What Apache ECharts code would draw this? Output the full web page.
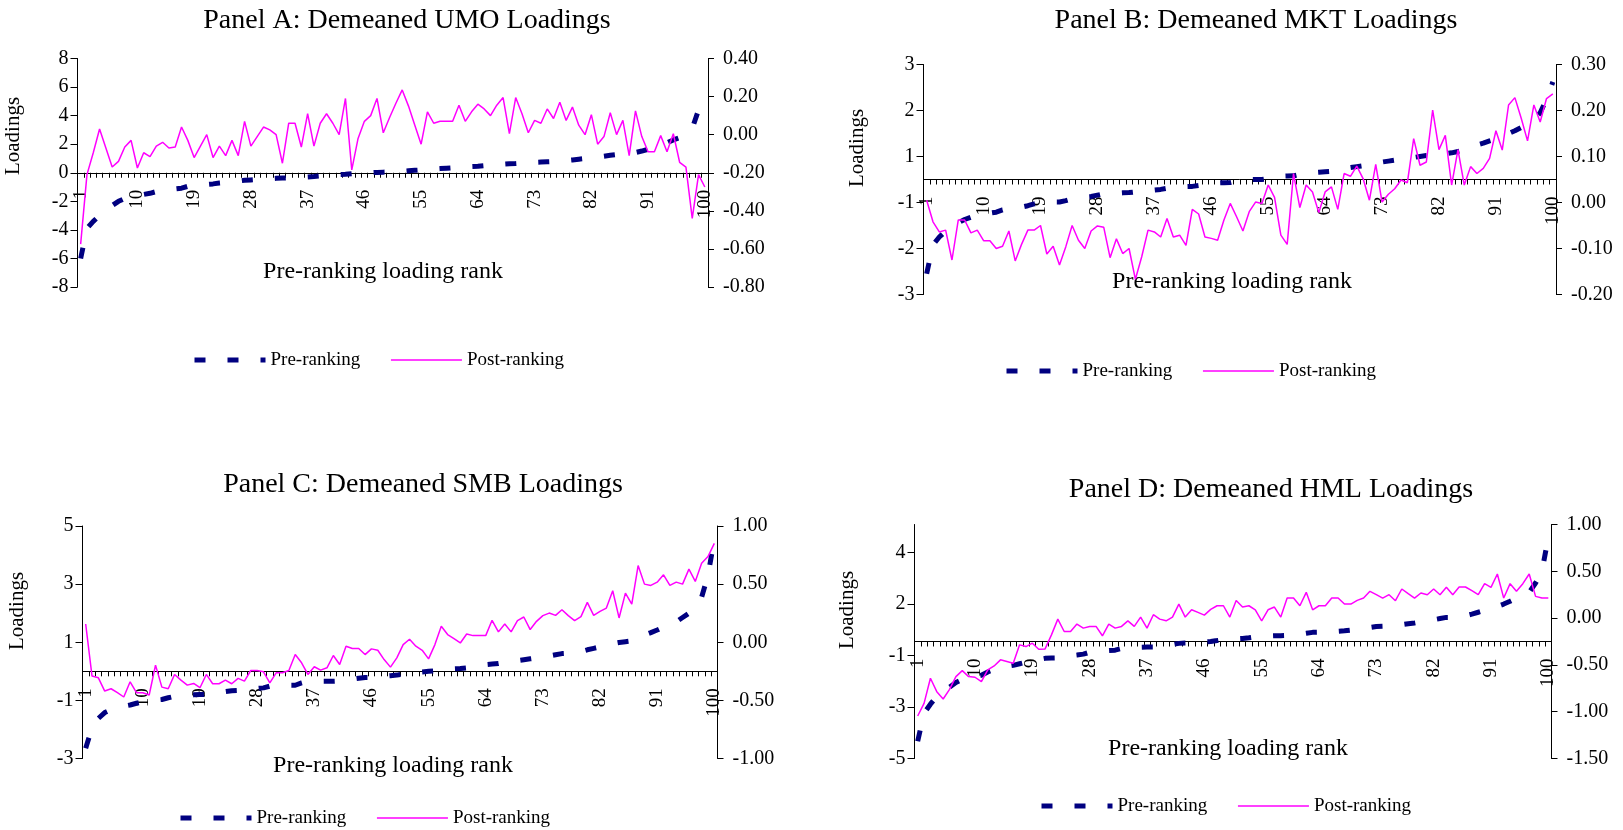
<!DOCTYPE html>
<html>
<head>
<meta charset="utf-8">
<script src="https://cdn.jsdelivr.net/npm/echarts@6/dist/echarts.min.js"></script>
<style>
html,body{margin:0;padding:0;background:#ffffff;}
#chart{width:1623px;height:830px;}
</style>
</head>
<body>
<div id="chart"></div>
<script>
// ---------------- DATA ----------------
const ranks = ['1','2','3','4','5','6','7','8','9','10','11','12','13','14','15','16','17','18','19','20',
'21','22','23','24','25','26','27','28','29','30','31','32','33','34','35','36','37','38','39','40',
'41','42','43','44','45','46','47','48','49','50','51','52','53','54','55','56','57','58','59','60',
'61','62','63','64','65','66','67','68','69','70','71','72','73','74','75','76','77','78','79','80',
'81','82','83','84','85','86','87','88','89','90','91','92','93','94','95','96','97','98','99','100'];

const seriesNames = ['Pre-ranking', 'Post-ranking'];
const panelTitles = ['Panel A: Demeaned UMO Loadings', 'Panel B: Demeaned MKT Loadings',
                     'Panel C: Demeaned SMB Loadings', 'Panel D: Demeaned HML Loadings'];
const xAxisTitle = 'Pre-ranking loading rank';
const yAxisTitle = 'Loadings';

// Panel A (pre: left axis, post: right axis)
const preA = [-6.0,-3.9,-3.4,-3.0,-2.6,-2.3,-2.0,-1.8,-1.7,-1.62,
-1.52,-1.44,-1.32,-1.25,-1.19,-1.13,-1.08,-0.95,-0.9,-0.86,
-0.82,-0.78,-0.72,-0.68,-0.63,-0.58,-0.53,-0.5,-0.47,-0.45,
-0.42,-0.39,-0.37,-0.35,-0.33,-0.31,-0.29,-0.26,-0.22,-0.18,
-0.15,-0.13,-0.11,-0.07,-0.04,-0.02,0.0,0.02,0.04,0.06,
0.08,0.1,0.14,0.17,0.2,0.23,0.26,0.29,0.32,0.35,
0.38,0.41,0.44,0.46,0.5,0.54,0.57,0.6,0.63,0.65,
0.68,0.71,0.73,0.75,0.77,0.79,0.82,0.86,0.9,0.95,
1.0,1.05,1.1,1.16,1.22,1.27,1.3,1.35,1.42,1.52,
1.64,1.8,1.95,2.1,2.3,2.45,2.75,3.1,4.4,5.2];
const postA = [-0.575,-0.21,-0.095,0.03,-0.07,-0.17,-0.14,-0.065,-0.03,-0.175,
-0.095,-0.115,-0.06,-0.04,-0.07,-0.065,0.04,-0.03,-0.12,-0.06,
0.0,-0.12,-0.06,-0.11,-0.03,-0.11,0.07,-0.06,-0.01,0.04,
0.025,0.0,-0.15,0.06,0.06,-0.065,0.11,-0.06,0.06,0.11,
0.06,0.0,0.19,-0.185,-0.02,0.07,0.10,0.19,0.01,0.09,
0.165,0.235,0.15,0.05,-0.05,0.12,0.06,0.07,0.07,0.07,
0.155,0.07,0.12,0.16,0.135,0.10,0.155,0.195,0.005,0.195,
0.11,0.01,0.075,0.06,0.135,0.085,0.17,0.075,0.145,0.05,
0.0,0.105,-0.05,-0.01,0.115,0.0,0.075,-0.11,0.125,-0.01,
-0.09,-0.09,-0.005,-0.09,0.005,-0.145,-0.17,-0.44,-0.21,-0.275];

// Panel B
const preB = [-2.05,-1.42,-1.25,-1.12,-1.02,-0.94,-0.87,-0.82,-0.78,-0.75,
-0.73,-0.71,-0.66,-0.64,-0.62,-0.60,-0.57,-0.53,-0.50,-0.50,
-0.49,-0.49,-0.46,-0.42,-0.40,-0.38,-0.37,-0.34,-0.31,-0.30,
-0.30,-0.29,-0.285,-0.27,-0.26,-0.24,-0.23,-0.215,-0.19,-0.17,
-0.16,-0.155,-0.15,-0.13,-0.09,-0.08,-0.075,-0.07,-0.065,-0.03,
0.0,0.0,0.0,0.0,0.02,0.06,0.07,0.075,0.08,0.11,
0.145,0.15,0.16,0.17,0.18,0.23,0.25,0.26,0.28,0.30,
0.34,0.36,0.38,0.40,0.42,0.44,0.46,0.48,0.50,0.52,
0.53,0.54,0.56,0.58,0.61,0.64,0.70,0.75,0.79,0.84,
0.88,0.93,1.00,1.06,1.13,1.22,1.31,1.45,1.75,2.12];
const postB = [0.005,-0.042,-0.064,-0.060,-0.125,-0.038,-0.038,-0.066,-0.060,-0.083,
-0.083,-0.100,-0.095,-0.062,-0.127,-0.091,-0.060,-0.060,-0.050,-0.112,
-0.095,-0.136,-0.096,-0.050,-0.082,-0.100,-0.062,-0.051,-0.054,-0.120,
-0.079,-0.111,-0.100,-0.167,-0.118,-0.060,-0.064,-0.075,-0.035,-0.075,
-0.071,-0.093,-0.015,-0.025,-0.075,-0.078,-0.082,-0.038,-0.002,-0.031,
-0.062,-0.020,0.001,-0.002,0.038,0.011,-0.071,-0.091,0.063,-0.011,
0.038,0.023,-0.022,0.023,0.034,-0.015,0.063,0.057,0.079,0.052,
0.005,0.083,0.001,0.018,0.030,0.049,0.043,0.139,0.081,0.088,
0.201,0.115,0.146,0.038,0.115,0.038,0.078,0.063,0.074,0.096,
0.156,0.114,0.212,0.228,0.183,0.134,0.212,0.175,0.226,0.236];

// Panel C
const preC = [-2.65,-1.95,-1.62,-1.42,-1.32,-1.25,-1.2,-1.16,-1.1,-1.05,
-1.02,-0.99,-0.97,-0.91,-0.86,-0.84,-0.82,-0.81,-0.8,-0.8,
-0.77,-0.73,-0.7,-0.67,-0.66,-0.64,-0.61,-0.59,-0.57,-0.51,
-0.49,-0.49,-0.48,-0.48,-0.4,-0.34,-0.34,-0.34,-0.34,-0.34,
-0.33,-0.3,-0.27,-0.24,-0.21,-0.21,-0.19,-0.17,-0.15,-0.13,
-0.09,-0.06,-0.04,-0.02,0.0,0.02,0.06,0.08,0.09,0.1,
0.12,0.17,0.2,0.23,0.25,0.27,0.31,0.34,0.37,0.4,
0.43,0.46,0.49,0.53,0.57,0.61,0.62,0.63,0.68,0.74,
0.79,0.84,0.9,0.95,0.99,1.02,1.05,1.18,1.25,1.33,
1.42,1.52,1.6,1.7,1.85,2.0,2.25,2.55,3.3,4.55];
const postC = [0.157,-0.291,-0.306,-0.42,-0.40,-0.434,-0.471,-0.34,-0.434,-0.434,
-0.454,-0.197,-0.386,-0.40,-0.277,-0.326,-0.369,-0.354,-0.391,-0.277,
-0.357,-0.357,-0.326,-0.357,-0.311,-0.334,-0.243,-0.243,-0.254,-0.349,
-0.263,-0.263,-0.243,-0.106,-0.177,-0.277,-0.211,-0.24,-0.22,-0.114,
-0.191,-0.034,-0.054,-0.054,-0.106,-0.057,-0.069,-0.149,-0.214,-0.134,
-0.02,0.026,-0.034,-0.069,-0.143,-0.02,0.137,0.066,0.031,-0.006,
0.071,0.057,0.057,0.057,0.189,0.089,0.157,0.089,0.186,0.217,
0.109,0.18,0.229,0.251,0.231,0.28,0.229,0.186,0.22,0.343,
0.231,0.266,0.294,0.443,0.209,0.423,0.329,0.66,0.5,0.489,
0.517,0.58,0.489,0.517,0.5,0.629,0.523,0.68,0.737,0.851];

// Panel D
const preD = [-4.26,-3.06,-2.68,-2.35,-2.1,-1.95,-1.75,-1.62,-1.55,-1.5,
-1.44,-1.3,-1.2,-1.12,-1.06,-1.02,-0.95,-0.88,-0.82,-0.77,
-0.72,-0.705,-0.7,-0.66,-0.61,-0.58,-0.54,-0.46,-0.43,-0.41,
-0.39,-0.37,-0.3,-0.27,-0.26,-0.25,-0.24,-0.24,-0.23,-0.18,
-0.13,-0.08,-0.06,-0.05,-0.04,-0.02,0.0,0.04,0.09,0.11,
0.12,0.13,0.16,0.2,0.22,0.24,0.25,0.25,0.26,0.28,
0.31,0.35,0.39,0.395,0.4,0.42,0.44,0.46,0.49,0.53,
0.56,0.6,0.64,0.65,0.65,0.68,0.72,0.76,0.79,0.84,
0.88,0.93,0.98,1.03,1.03,1.04,1.1,1.17,1.25,1.33,
1.41,1.5,1.6,1.72,1.85,1.96,2.1,2.5,3.0,4.46];
const postD = [-1.046,-0.911,-0.643,-0.786,-0.864,-0.761,-0.625,-0.561,-0.625,-0.632,
-0.679,-0.554,-0.511,-0.446,-0.464,-0.482,-0.286,-0.304,-0.268,-0.332,
-0.329,-0.179,-0.011,-0.143,-0.143,-0.064,-0.107,-0.089,-0.089,-0.189,
-0.064,-0.107,-0.089,-0.029,-0.089,0.011,-0.107,0.036,-0.011,-0.029,
0.011,0.15,0.011,0.089,0.061,0.032,0.093,0.132,0.132,0.011,
0.189,0.118,0.132,0.089,-0.029,0.089,0.118,0.011,0.214,0.214,
0.132,0.275,0.089,0.132,0.132,0.214,0.214,0.15,0.15,0.189,
0.214,0.286,0.25,0.214,0.25,0.186,0.311,0.261,0.214,0.268,
0.25,0.311,0.25,0.329,0.25,0.332,0.332,0.293,0.25,0.368,
0.329,0.471,0.214,0.368,0.286,0.368,0.471,0.232,0.214,0.214];

// Axis ranges and tick values (left axis / right axis)
const leftMin  = [-8, -2.5, -3, -5];
const leftMax  = [8, 2.5, 5, 5];
const leftTicks = [[-8,-6,-4,-2,0,2,4,6,8], [-2.5,-1.5,-0.5,0.5,1.5,2.5], [-3,-1,1,3,5], [-5,-2.8,-0.6,1.6,3.8]];
const rightMin = [-0.8, -0.2, -1.0, -1.5];
const rightMax = [0.4, 0.3, 1.0, 1.0];
const rightTicks = [[-0.8,-0.6,-0.4,-0.2,0,0.2,0.4], [-0.2,-0.1,0,0.1,0.2,0.3], [-1,-0.5,0,0.5,1], [-1.5,-1,-0.5,0,0.5,1]];

const preSeries = [preA, preB, preC, preD];
const postSeries = [postA, postB, postC, postD];

// ---------------- LAYOUT / STYLE ----------------
const FONT = "'Liberation Serif', 'Times New Roman', serif";
const NAVY = '#000080';
const MAGENTA = '#FF00FF';
const grids = [
  {left: 77.5, top: 58.5, width: 630.5, height: 228.5},
  {left: 923.5, top: 64.5, width: 632.5, height: 230},
  {left: 82.5, top: 526, width: 635, height: 232.5},
  {left: 914.5, top: 524.5, width: 637, height: 234}
];
const titlePos = [[407, 21], [1256, 21], [423, 485], [1271, 490]];
const xTitlePos = [[383, 272], [1232, 282], [393, 766], [1228, 749]];
const yTitlePos = [[13, 136], [857, 148], [17, 611], [847, 610]];
const legendPos = [[192, 350], [1004, 361], [178, 808], [1039, 796]];

function excelRound(v) {
  const r = Math.sign(v) * Math.round(Math.abs(v));
  return r === 0 ? '0' : String(r);
}

const option = {
  backgroundColor: '#ffffff',
  animation: false,
  grid: grids.map(g => Object.assign({containLabel: false, outerBoundsMode: 'none'}, g)),
  xAxis: [], yAxis: [], series: [], legend: [], graphic: []
};

for (let i = 0; i < 4; i++) {
  // category axis crosses the left value axis at 0: shift the whole axis (line, ticks, labels) up to that level
  const zeroOffset = -grids[i].height * (0 - leftMin[i]) / (leftMax[i] - leftMin[i]);
  option.xAxis.push({
    type: 'category', gridIndex: i, data: ranks, boundaryGap: true,
    position: 'bottom', offset: zeroOffset,
    axisLine: {show: true, onZero: false, lineStyle: {color: '#000', width: 1}},
    axisTick: {show: true, interval: 0, length: 5, inside: false, lineStyle: {color: '#000', width: 1}},
    axisLabel: {show: true, interval: 8, rotate: 90, margin: 17, fontSize: 19, fontFamily: FONT, color: '#000', hideOverlap: false},
    splitLine: {show: false}
  });
  option.yAxis.push({
    type: 'value', gridIndex: i, position: 'left',
    min: leftMin[i], max: leftMax[i],
    axisLine: {show: true, onZero: false, lineStyle: {color: '#000', width: 1}},
    axisTick: {show: true, length: 7, inside: false, customValues: leftTicks[i], lineStyle: {color: '#000'}},
    axisLabel: {show: true, customValues: leftTicks[i], formatter: excelRound, margin: 9, fontSize: 20, fontFamily: FONT, color: '#000'},
    splitLine: {show: false}
  });
  option.yAxis.push({
    type: 'value', gridIndex: i, position: 'right',
    min: rightMin[i], max: rightMax[i],
    axisLine: {show: true, onZero: false, lineStyle: {color: '#000', width: 1}},
    axisTick: {show: true, length: 6, inside: false, customValues: rightTicks[i], lineStyle: {color: '#000'}},
    axisLabel: {show: true, customValues: rightTicks[i], formatter: v => v.toFixed(2), margin: 15, fontSize: 20, fontFamily: FONT, color: '#000'},
    splitLine: {show: false}
  });
  option.series.push({
    type: 'line', name: seriesNames[0], xAxisIndex: i, yAxisIndex: 2 * i,
    data: preSeries[i], symbol: 'none', silent: true, z: 2,
    itemStyle: {color: NAVY},
    lineStyle: {color: NAVY, width: 5, type: [11, 22], cap: 'butt'}
  });
  option.series.push({
    type: 'line', name: seriesNames[1], xAxisIndex: i, yAxisIndex: 2 * i + 1,
    data: postSeries[i], symbol: 'none', silent: true, z: 3,
    itemStyle: {color: MAGENTA},
    lineStyle: {color: MAGENTA, width: 1.5}
  });
  option.legend.push({
    show: true, data: seriesNames, orient: 'horizontal',
    left: legendPos[i][0], top: legendPos[i][1], padding: 0,
    itemWidth: 71, itemHeight: 20, itemGap: 30, selectedMode: false,
    itemStyle: {opacity: 0, borderWidth: 0},
    lineStyle: {width: 'inherit'},
    textStyle: {fontFamily: FONT, fontSize: 19, color: '#000', lineHeight: 20}
  });
  option.graphic.push({
    type: 'text', x: titlePos[i][0], y: titlePos[i][1], silent: true,
    style: {text: panelTitles[i], font: "28px 'Liberation Serif'", fill: '#000', align: 'center', verticalAlign: 'middle'}
  });
  option.graphic.push({
    type: 'text', x: xTitlePos[i][0], y: xTitlePos[i][1], silent: true,
    style: {text: xAxisTitle, font: "24px 'Liberation Serif'", fill: '#000', align: 'center', verticalAlign: 'middle'}
  });
  option.graphic.push({
    type: 'text', x: yTitlePos[i][0], y: yTitlePos[i][1], rotation: Math.PI / 2, silent: true,
    style: {text: yAxisTitle, font: "21px 'Liberation Serif'", fill: '#000', align: 'center', verticalAlign: 'middle'}
  });
}

const chart = echarts.init(document.getElementById('chart'), null, {renderer: 'canvas', width: 1623, height: 830});
chart.setOption(option);
</script>
</body>
</html>
